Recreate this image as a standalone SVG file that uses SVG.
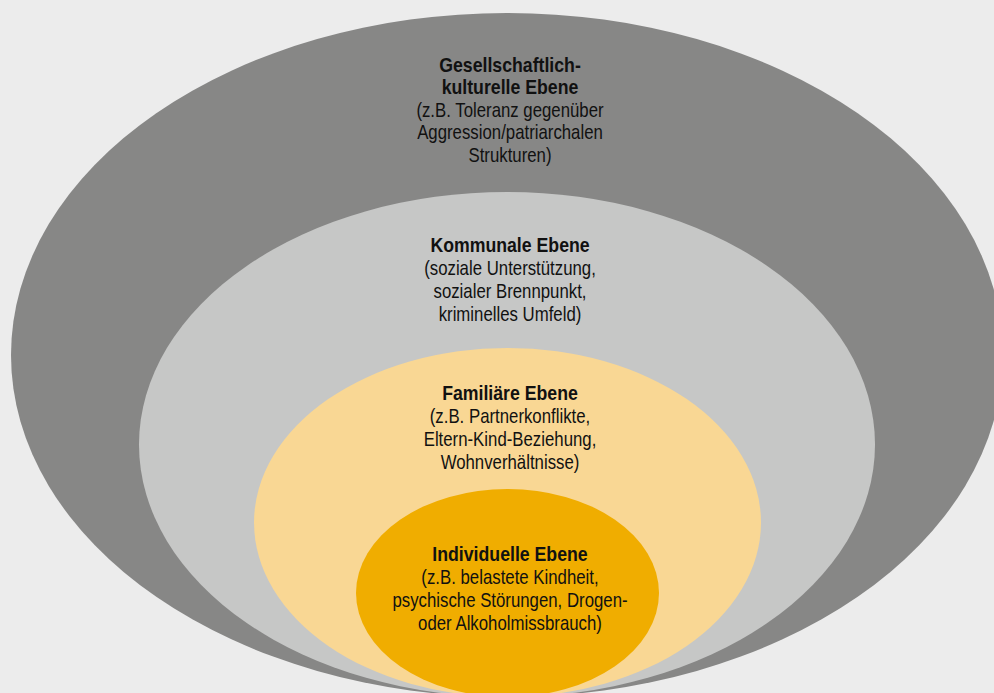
<svg xmlns="http://www.w3.org/2000/svg" width="994" height="693" viewBox="0 0 994 693">
<style>
text{font-family:"Liberation Sans",Arial,sans-serif;font-size:20px;fill:#111111;text-anchor:middle}
.b{font-weight:bold}
.sb{transform:translate(510px,0) scale(0.885,1)}
.sr{transform:translate(510px,0) scale(0.84,1)}
</style>
<rect width="994" height="693" fill="#ececec"/>
<g id="gesellschaft">
<ellipse cx="507" cy="355" rx="496" ry="342" fill="#878786"/>
<g class="sb">
<text class="b" x="0" y="72">Gesellschaftlich-</text>
<text class="b" x="0" y="94">kulturelle Ebene</text>
</g>
<g class="sr">
<text x="0" y="117">(z.B. Toleranz gegenüber</text>
<text x="0" y="139">Aggression/patriarchalen</text>
<text x="0" y="162">Strukturen)</text>
</g>
</g>
<g id="kommunal">
<ellipse cx="507" cy="444.5" rx="368" ry="252.5" fill="#c6c7c6"/>
<g class="sb">
<text class="b" x="0" y="252">Kommunale Ebene</text>
</g>
<g class="sr">
<text x="0" y="275">(soziale Unterstützung,</text>
<text x="0" y="298">sozialer Brennpunkt,</text>
<text x="0" y="321">kriminelles Umfeld)</text>
</g>
</g>
<g id="familie">
<ellipse cx="507.5" cy="522.5" rx="253.5" ry="174.5" fill="#f9d794"/>
<g class="sb">
<text class="b" x="0" y="400">Familiäre Ebene</text>
</g>
<g class="sr">
<text x="0" y="423">(z.B. Partnerkonflikte,</text>
<text x="0" y="446">Eltern-Kind-Beziehung,</text>
<text x="0" y="469">Wohnverhältnisse)</text>
</g>
</g>
<g id="individuell">
<ellipse cx="507.5" cy="593" rx="151.5" ry="104" fill="#f0ad00"/>
<g class="sb">
<text class="b" x="0" y="561">Individuelle Ebene</text>
</g>
<g class="sr">
<text x="0" y="584">(z.B. belastete Kindheit,</text>
<text x="0" y="607">psychische Störungen, Drogen-</text>
<text x="0" y="630">oder Alkoholmissbrauch)</text>
</g>
</g>
<g id="connectors"/>
</svg>
